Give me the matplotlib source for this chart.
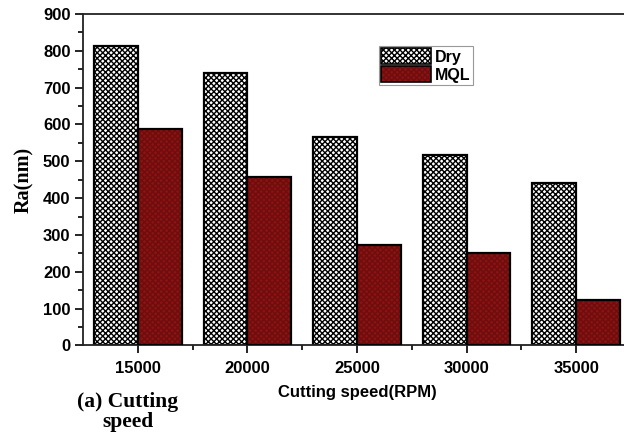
import matplotlib
matplotlib.use("Agg")
import matplotlib.pyplot as plt
import numpy as np
from matplotlib.patches import Patch
from matplotlib.legend_handler import HandlerTuple
from matplotlib.ticker import MultipleLocator

# rugosidade média (nm) por velocidade de corte
velocidades = ["15000", "20000", "25000", "30000", "35000"]
ra_dry = [813, 740, 567, 516, 441]
ra_mql = [587, 456, 274, 252, 124]

plt.rcParams['hatch.linewidth'] = 1.0

fig = plt.figure(figsize=(6.24, 4.36), dpi=100)
ax = fig.add_axes([83 / 624, 0.2076, 548 / 624, 0.7606])

x = np.arange(len(velocidades))
w = 0.4
cor_mql = '#8b1313'

ax.bar(x - w / 2, ra_dry, w, align='center', color='white', edgecolor='black',
       hatch='xxxxxx', linewidth=1.6, zorder=2)
# barras MQL: textura leve em vermelho escuro + contorno preto
ax.bar(x + w / 2, ra_mql, w, color=cor_mql, edgecolor='#6e0d0d', hatch='xxxxxx',
       linewidth=0, zorder=2)
ax.bar(x + w / 2, ra_mql, w, fill=False, edgecolor='black', linewidth=1.6, zorder=3)

ax.set_xlim(-0.5, 4.5)
ax.set_ylim(0, 900)
ax.set_xticks(x)
ax.set_xticklabels(velocidades)
ax.set_xticks(x[:-1] + 0.5, minor=True)
ax.yaxis.set_major_locator(MultipleLocator(100))
ax.yaxis.set_minor_locator(MultipleLocator(50))

for lab in ax.get_xticklabels() + ax.get_yticklabels():
    lab.set_fontfamily('Liberation Sans')
    lab.set_fontweight('bold')
    lab.set_fontsize(12)

ax.tick_params(axis='both', which='major', direction='out', length=6, width=1.2)
ax.tick_params(axis='both', which='minor', direction='out', length=3.5, width=1.2)
ax.tick_params(axis='y', pad=3)
ax.tick_params(axis='x', pad=5)
for s in ax.spines.values():
    s.set_linewidth(1.3)
    s.set_color('#222222')

ax.set_xlabel("Cutting speed(RPM)", fontfamily='Liberation Sans', fontweight='bold',
              fontsize=12, labelpad=7)
ax.set_ylabel("Ra(nm)", fontfamily='Liberation Serif', fontweight='bold', fontsize=14.5,
              labelpad=6)

h_dry = Patch(facecolor='white', edgecolor='black', hatch='xxxxxx', linewidth=1.2)
h_mql = (Patch(facecolor=cor_mql, edgecolor='#6e0d0d', hatch='xxxxxx', linewidth=0),
         Patch(fill=False, edgecolor='black', linewidth=1.2))
leg = ax.legend([h_dry, h_mql], ["Dry", "MQL"], loc='upper left',
                bbox_to_anchor=(379 / 624, 1 - 46 / 436), bbox_transform=fig.transFigure,
                handler_map={tuple: HandlerTuple(ndivide=1, pad=0)},
                prop={'family': 'Liberation Sans', 'weight': 'bold', 'size': 11.5},
                fancybox=False, framealpha=1, edgecolor='#999999',
                handlelength=3.1, handleheight=1.15, handletextpad=0.25,
                labelspacing=0.1, borderpad=0.15, borderaxespad=0)
leg.get_frame().set_linewidth(0.8)

fig.text(128 / 624, 1 - 412 / 436, "(a) Cutting\nspeed", ha='center', va='center',
         fontfamily='Liberation Serif', fontweight='bold', fontsize=15.5, linespacing=1.05)

fig.savefig("out.png", dpi=100)
